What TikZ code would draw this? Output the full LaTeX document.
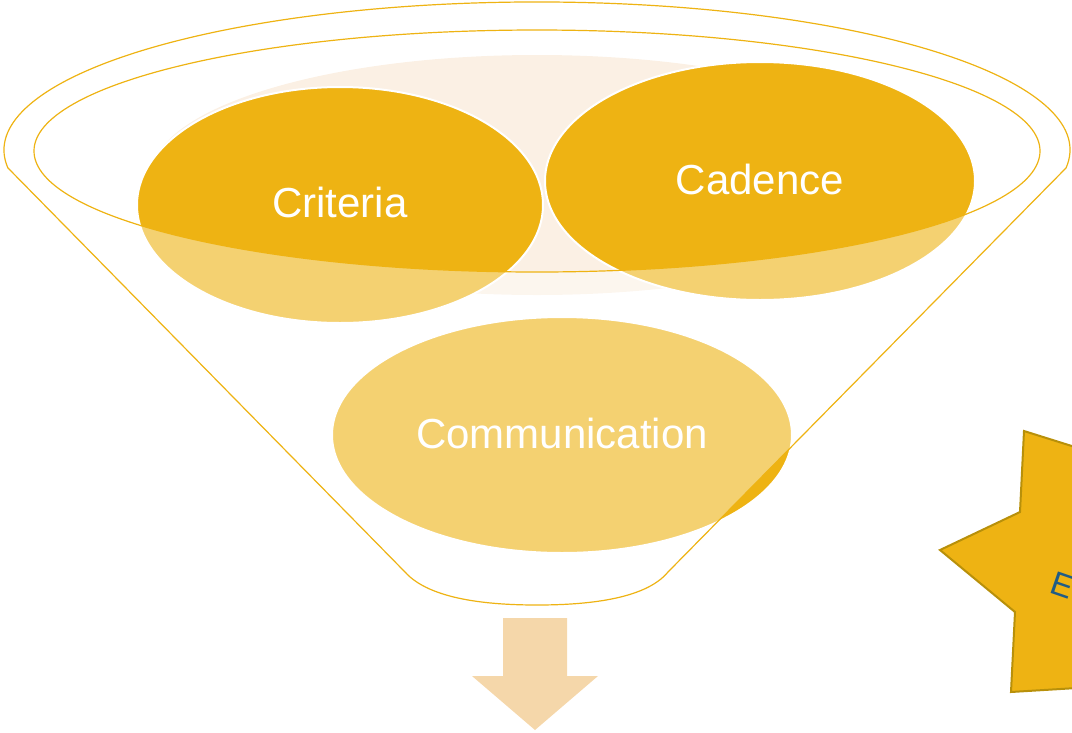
\documentclass[tikz,border=0pt]{standalone}
\usepackage{fontspec}
\setmainfont{Liberation Sans}
\usetikzlibrary{shapes.geometric}
\definecolor{gold}{HTML}{EEB313}
\definecolor{peach}{HTML}{FBF0E4}
\definecolor{arrowpeach}{HTML}{F5D7AA}
\definecolor{starline}{HTML}{B8900A}
\definecolor{navy}{HTML}{1F5C86}
\tikzset{
  blob/.style={ellipse, fill=gold, draw=white, line width=2pt, inner sep=0pt, outer sep=0pt},
  lbl/.style={text=white, font=\fontsize{42}{50}\selectfont, inner sep=0pt},
  funnelline/.style={draw=gold, line width=1.2pt},
}
\begin{document}
\begin{tikzpicture}[x=1pt,y=-1pt]
\useasboundingbox (0,0) rectangle (1072,732);
% back glow
\node[ellipse, fill=peach, minimum width=770, minimum height=240, inner sep=0pt] (glow) at (537,175) {};
% circles
\node[blob, minimum width=406, minimum height=236] (crit) at (340,205) {};
\node[blob, minimum width=430, minimum height=238] (cad) at (760,181) {};
\node[blob, minimum width=460, minimum height=236] (comm) at (562,435) {};
% funnel front (translucent body outside the opening)
\fill[white, fill opacity=0.4, even odd rule]
  (8,168) -- (405,572) .. controls (430,600) and (490,605) .. (537,605)
  .. controls (584,605) and (645,600) .. (668,572) -- (1066,168)
  arc[start angle=7, end angle=-187, x radius=533, y radius=148] -- cycle
  (537,151) ellipse [x radius=503, y radius=121];
% funnel outline
\draw[funnelline]
  (8,168) -- (405,572) .. controls (430,600) and (490,605) .. (537,605)
  .. controls (584,605) and (645,600) .. (668,572) -- (1066,168)
  arc[start angle=7, end angle=-187, x radius=533, y radius=148] -- cycle;
\draw[funnelline] (537,151) ellipse [x radius=503, y radius=121];
% labels
\node[lbl] (critl) at ([yshift=2.5]crit.center) {Criteria};
\node[lbl] (cadl) at ([yshift=2]cad.center) {Cadence};
\node[lbl] (comml) at ([yshift=2]comm.center) {Communication};
% down arrow
\fill[arrowpeach] (503,618) -- (567,618) -- (567,676) -- (598,676) -- (535,730)
  -- (472,676) -- (503,676) -- cycle;
% star (cut by page edge)
\begin{scope}
\clip (0,0) rectangle (1072,732);
\draw[fill=gold, draw=starline, line width=2pt, line join=miter]
  (1110,458) -- (1024,431) -- (1020,512) -- (940,550) -- (1015,612)
  -- (1011,692) -- (1110,686) -- cycle;
\node[text=navy, font=\fontsize{33}{38}\selectfont, rotate=-19, anchor=base west, inner sep=0pt] (estar) at (1048,592) {E};
\end{scope}
\end{tikzpicture}
\end{document}
